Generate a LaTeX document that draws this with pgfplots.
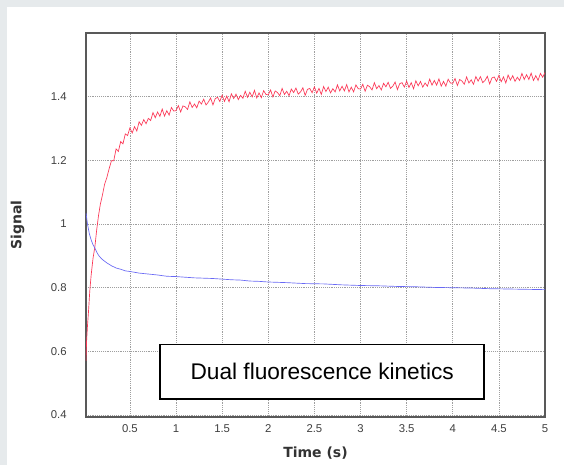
\documentclass[border=0pt]{standalone}
\usepackage{pgfplots}
\pgfplotsset{compat=1.18}
\usepackage{fontspec}
\setmainfont{Liberation Sans}
\newfontfamily\labfont{DejaVu Sans}
\definecolor{redc}{RGB}{252,55,85}
\definecolor{bluec}{RGB}{105,105,245}
\definecolor{bgc}{RGB}{230,234,236}
\begin{document}
\begin{tikzpicture}
\useasboundingbox (0,0) rectangle (423pt,348.75pt);
\fill[bgc] (0,0) rectangle (423pt,348.75pt);
\fill[white] (5.25pt,0) rectangle (423pt,343.5pt);
\begin{axis}[
  at={(64.5pt,36pt)}, anchor=south west,
  scale only axis, width=344.25pt, height=288pt,
  xmin=0.024, xmax=5, ymin=0.394, ymax=1.6,
  xtick={0.5,1,...,5}, ytick={0.4,0.6,...,1.41},
  xticklabels={0.5,1,1.5,2,2.5,3,3.5,4,4.5,5},
  yticklabels={0.4,0.6,0.8,1,1.2,1.4},
  major tick length=0pt,
  grid=major,
  major grid style={gray!75, densely dotted, line width=0.5pt},
  axis line style={black!65, line width=0.9pt},
  tick label style={font=\fontsize{8.5}{10}\selectfont, text=black!75},
  /pgf/number format/assume math mode=true,
  xticklabel style={yshift=-2pt},
  yticklabel style={xshift=-11pt},
  xlabel={Time (s)}, ylabel={Signal},
  label style={font=\labfont\bfseries\fontsize{10.5}{12}\selectfont, text=black!80},
  xlabel style={at={(axis description cs:0.5,-0.093)}, anchor=center},
  ylabel style={at={(axis description cs:-0.149,0.5)}, anchor=center},
  clip=true,
]
\addplot[redc, line width=0.5pt] table {
0.024 0.57
0.03 0.63
0.04 0.68
0.05 0.72
0.065 0.79
0.08 0.84
0.1 0.892
0.12 0.928
0.14 0.982
0.16 1.027
0.18 1.063
0.2 1.088
0.225 1.124
0.25 1.146
0.275 1.174
0.300 1.199
0.325 1.199
0.350 1.236
0.375 1.228
0.400 1.259
0.425 1.252
0.450 1.283
0.475 1.278
0.500 1.302
0.525 1.286
0.550 1.306
0.575 1.292
0.600 1.321
0.625 1.310
0.650 1.328
0.675 1.315
0.700 1.332
0.725 1.325
0.750 1.350
0.775 1.334
0.800 1.352
0.825 1.338
0.850 1.361
0.875 1.339
0.900 1.356
0.925 1.342
0.950 1.366
0.975 1.355
1.000 1.356
1.025 1.372
1.050 1.352
1.075 1.371
1.100 1.368
1.125 1.360
1.150 1.384
1.175 1.366
1.200 1.377
1.225 1.365
1.250 1.386
1.275 1.377
1.300 1.392
1.325 1.374
1.350 1.383
1.375 1.396
1.400 1.374
1.425 1.394
1.450 1.398
1.475 1.385
1.500 1.405
1.525 1.385
1.550 1.402
1.575 1.384
1.600 1.409
1.625 1.394
1.650 1.408
1.675 1.391
1.700 1.404
1.725 1.395
1.750 1.417
1.775 1.398
1.800 1.414
1.825 1.399
1.850 1.420
1.875 1.396
1.900 1.412
1.925 1.397
1.950 1.419
1.975 1.407
2.000 1.406
2.025 1.421
2.050 1.399
2.075 1.418
2.100 1.413
2.125 1.403
2.150 1.426
2.175 1.407
2.200 1.417
2.225 1.403
2.250 1.424
2.275 1.413
2.300 1.427
2.325 1.408
2.350 1.415
2.375 1.428
2.400 1.404
2.425 1.423
2.450 1.426
2.475 1.412
2.500 1.431
2.525 1.411
2.550 1.426
2.575 1.407
2.600 1.432
2.625 1.416
2.650 1.430
2.675 1.412
2.700 1.425
2.725 1.415
2.750 1.437
2.775 1.418
2.800 1.433
2.825 1.418
2.850 1.438
2.875 1.415
2.900 1.430
2.925 1.415
2.950 1.437
2.975 1.425
3.000 1.424
3.025 1.439
3.050 1.417
3.075 1.436
3.100 1.431
3.125 1.421
3.150 1.444
3.175 1.425
3.200 1.435
3.225 1.421
3.250 1.442
3.275 1.431
3.300 1.445
3.325 1.426
3.350 1.433
3.375 1.446
3.400 1.422
3.425 1.441
3.450 1.444
3.475 1.430
3.500 1.449
3.525 1.429
3.550 1.444
3.575 1.425
3.600 1.450
3.625 1.434
3.650 1.448
3.675 1.430
3.700 1.443
3.725 1.433
3.750 1.455
3.775 1.436
3.800 1.451
3.825 1.436
3.850 1.456
3.875 1.433
3.900 1.448
3.925 1.433
3.950 1.455
3.975 1.443
4.000 1.442
4.025 1.457
4.050 1.435
4.075 1.454
4.100 1.449
4.125 1.439
4.150 1.462
4.175 1.443
4.200 1.453
4.225 1.439
4.250 1.463
4.275 1.449
4.300 1.463
4.325 1.444
4.350 1.451
4.375 1.464
4.400 1.440
4.425 1.459
4.450 1.462
4.475 1.448
4.500 1.467
4.525 1.447
4.550 1.462
4.575 1.443
4.600 1.468
4.625 1.452
4.650 1.466
4.675 1.448
4.700 1.461
4.725 1.451
4.750 1.473
4.775 1.454
4.800 1.469
4.825 1.454
4.850 1.474
4.875 1.451
4.900 1.466
4.925 1.451
4.950 1.473
4.975 1.461
5.000 1.476
};
\addplot[bluec, line width=0.5pt] table {
0.024 1.035
0.04 1.000
0.06 0.970
0.08 0.950
0.1 0.935
0.12 0.925
0.14 0.912
0.16 0.902
0.18 0.895
0.2 0.889
0.25 0.878
0.3 0.869
0.35 0.862
0.4 0.858
0.45 0.853
0.5 0.851
0.6 0.846
0.7 0.843
0.8 0.840
0.9 0.836
1.0 0.835
1.1 0.833
1.2 0.831
1.3 0.830
1.4 0.829
1.5 0.827
1.6 0.825
1.7 0.824
1.8 0.821
1.9 0.820
2.0 0.818
2.2 0.816
2.4 0.813
2.6 0.812
2.8 0.809
3.0 0.807
3.2 0.806
3.4 0.804
3.6 0.803
3.8 0.801
4.0 0.800
4.2 0.799
4.4 0.797
4.6 0.796
4.8 0.795
5.0 0.794
};
\node[draw=black, line width=1.3pt, fill=white, minimum width=243pt, minimum height=41pt, inner sep=0pt, font=\fontsize{17}{20}\selectfont] at (axis cs:2.585,0.536) {Dual fluorescence kinetics};
\end{axis}
\end{tikzpicture}
\end{document}
